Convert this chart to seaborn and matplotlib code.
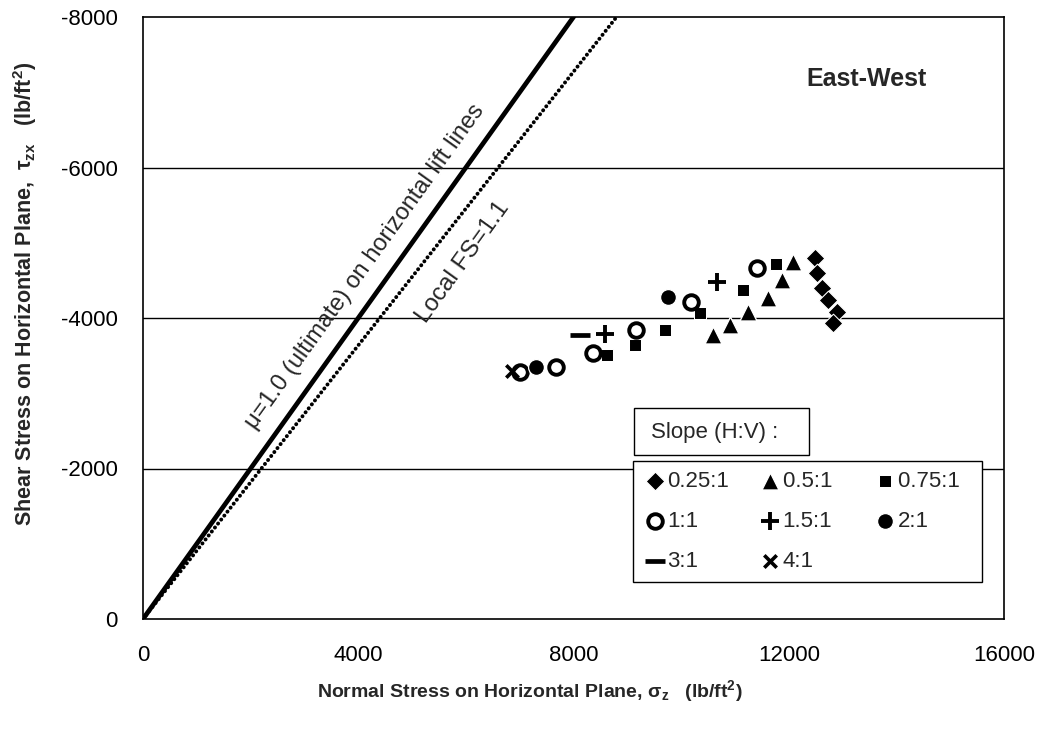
import numpy as np
import pandas as pd
import matplotlib
matplotlib.use("Agg")
import matplotlib.pyplot as plt
from matplotlib.patches import Rectangle
import seaborn as sns

# Data: normal stress sigma_z and shear stress tau_zx (lb/ft2)
slope_labels = ["0.25:1", "0.5:1", "0.75:1", "1:1", "1.5:1", "2:1", "3:1", "4:1"]

sigma_025 = [12490, 12525, 12620, 12730, 12900, 12820]
tau_025 = [-4800, -4600, -4400, -4240, -4080, -3930]

sigma_050 = [12080, 11875, 11615, 11245, 10910, 10590]
tau_050 = [-4745, -4505, -4265, -4080, -3905, -3775]

sigma_075 = [11765, 11150, 10350, 9700, 9145, 8625]
tau_075 = [-4720, -4370, -4065, -3840, -3640, -3510]

sigma_100 = [11410, 10185, 9160, 8360, 7675, 7005]
tau_100 = [-4665, -4215, -3840, -3535, -3350, -3280]

sigma_150 = [10665, 8585]
tau_150 = [-4480, -3785]

sigma_200 = [9755, 7305]
tau_200 = [-4280, -3350]

sigma_300 = [8120]
tau_300 = [-3775]

sigma_400 = [6855]
tau_400 = [-3295]

# Reference lines: mu = 1.0 (ultimate) and local factor of safety 1.1
mu_ultimate = 1.0
local_fs = 1.1
line_sigma = np.array([0, 16000])

# Axis ticks
x_ticks = [0, 4000, 8000, 12000, 16000]
y_ticks = [0, -2000, -4000, -6000, -8000]

sns.set_theme(style="white")
plt.rcParams["font.family"] = ["Liberation Sans", "DejaVu Sans"]
plt.rcParams["mathtext.fontset"] = "custom"
plt.rcParams["mathtext.rm"] = "Liberation Sans"
plt.rcParams["mathtext.it"] = "Liberation Sans:italic"
plt.rcParams["mathtext.bf"] = "Liberation Sans:bold"


def build_points():
    series = [
        (sigma_025, tau_025), (sigma_050, tau_050), (sigma_075, tau_075),
        (sigma_100, tau_100), (sigma_150, tau_150), (sigma_200, tau_200),
        (sigma_300, tau_300), (sigma_400, tau_400),
    ]
    frames = []
    for label, (s, t) in zip(slope_labels, series):
        frames.append(pd.DataFrame({"sigma": s, "tau": t, "slope": label}))
    return pd.concat(frames, ignore_index=True)


def main():
    df = build_points()

    fig = plt.figure(figsize=(10.43, 7.31), dpi=100)
    ax = fig.add_axes([143 / 1043, 112 / 731, 861 / 1043, 602 / 731])

    # Failure lines
    sns.lineplot(x=line_sigma, y=-line_sigma * mu_ultimate, ax=ax,
                 color="black", linewidth=3.4, zorder=3)
    sns.lineplot(x=line_sigma, y=-line_sigma * mu_ultimate / local_fs, ax=ax,
                 color="black", linewidth=2.8, linestyle=(0, (0.05, 1.25)),
                 dash_capstyle="round", zorder=3)

    # Points, one call per slope (filled and line markers can't be mixed)
    styles = {
        "0.25:1": dict(marker="D", s=90, color="black"),
        "0.5:1": dict(marker="^", s=150, color="black"),
        "0.75:1": dict(marker="s", s=85, color="black"),
        "1:1": dict(marker="o", s=110, facecolor="white", edgecolor="black", linewidth=2.8),
        "1.5:1": dict(marker="+", s=170, color="black", linewidth=2.8),
        "2:1": dict(marker="o", s=130, color="black"),
        "3:1": dict(marker="_", s=200, color="black", linewidth=3.4),
        "4:1": dict(marker="x", s=80, color="black", linewidth=2.6),
    }
    handles = {}
    for label in slope_labels:
        sub = df[df["slope"] == label]
        sns.scatterplot(data=sub, x="sigma", y="tau", ax=ax, label=label,
                        zorder=4, **styles[label])
        handles[label] = ax.collections[-1]

    ax.set_xlim(0, 16000)
    ax.set_ylim(0, -8000)
    ax.set_xticks(x_ticks)
    ax.set_yticks(y_ticks)
    ax.set_xticklabels([str(v) for v in x_ticks])
    ax.set_yticklabels([str(v) for v in y_ticks])
    ax.tick_params(axis="both", length=0, labelsize=16, colors="black")
    ax.tick_params(axis="x", pad=19)
    ax.tick_params(axis="y", pad=18)

    # Horizontal gridlines only
    for y in y_ticks[1:-1]:
        ax.axhline(y, color="black", linewidth=1.0, zorder=1)
    for spine in ax.spines.values():
        spine.set_color("black")
        spine.set_linewidth(1.2)

    ax.set_xlabel("Normal Stress on Horizontal Plane, $\\mathbf{\\sigma_z}$   (lb/ft$^\\mathbf{2}$)",
                  fontsize=14, fontweight="bold")
    ax.set_ylabel("Shear Stress on Horizontal Plane,  $\\mathbf{\\tau_{zx}}$   (lb/ft$^\\mathbf{2}$)",
                  fontsize=15.5, fontweight="bold")
    ax.xaxis.set_label_coords(0.449, -0.098)
    ax.yaxis.set_label_coords(-0.121, 0.540)

    # Line annotations
    ax.text(4125, -4680, "μ=1.0 (ultimate) on horizontal lift lines", rotation=54.3,
            ha="center", va="center", fontsize=17, rotation_mode="anchor")
    ax.text(5950, -4745, "Local FS=1.1", rotation=54.3,
            ha="center", va="center", fontsize=17.5, rotation_mode="anchor")
    ax.text(0.84, 0.897, "East-West", transform=ax.transAxes, ha="center",
            va="center", fontsize=18, fontweight="bold")

    # Legend in three columns, filled column-wise
    # (trailing spaces widen the columns a little, as in the original)
    order = ["0.25:1", "1:1", "3:1", "0.5:1", "1.5:1", "4:1", "0.75:1", "2:1"]
    shown = {k: k for k in order}
    shown["0.5:1"] = "0.5:1  "
    shown["0.75:1"] = "0.75:1  "
    leg = ax.legend([handles[k] for k in order], [shown[k] for k in order], ncol=3,
                    loc="lower left", bbox_to_anchor=(0.569, 0.0615),
                    fontsize=16, frameon=True, fancybox=False,
                    edgecolor="black", framealpha=1, handletextpad=0.0,
                    labelspacing=0.85, borderpad=0.45, handlelength=1.1,
                    columnspacing=1.3, borderaxespad=0)
    leg.get_frame().set_linewidth(1.0)
    leg.set_zorder(6)

    # Separate title box for the legend
    ax.add_patch(Rectangle((0.570, 0.272), 0.203, 0.078, transform=ax.transAxes,
                           facecolor="white", edgecolor="black", linewidth=1.0,
                           zorder=6, clip_on=False))
    ax.text(0.590, 0.309, "Slope (H:V) :", transform=ax.transAxes,
            ha="left", va="center", fontsize=16, zorder=7)

    fig.savefig("out.png", dpi=100)


if __name__ == "__main__":
    main()
